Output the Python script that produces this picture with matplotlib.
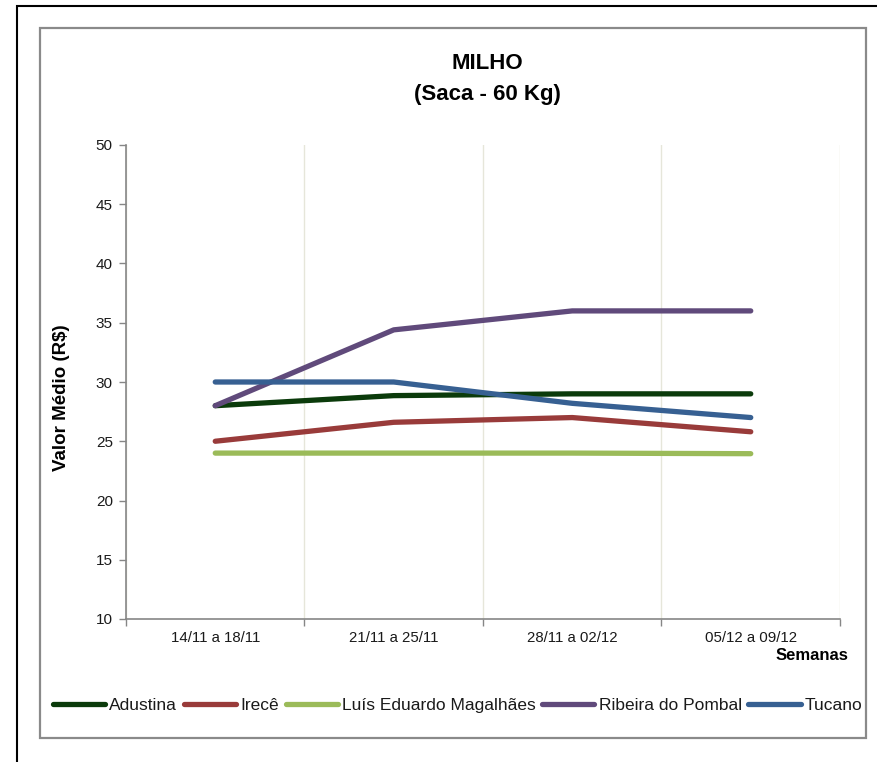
import matplotlib
matplotlib.use("Agg")
import matplotlib.pyplot as plt
from matplotlib.patches import Rectangle

# weekly average price of corn (R$ per 60 kg bag)
weeks = ['14/11 a 18/11', '21/11 a 25/11', '28/11 a 02/12', '05/12 a 09/12']
cities = ['Adustina', 'Irecê', 'Luís Eduardo Magalhães', 'Ribeira do Pombal', 'Tucano']
adustina = [28.0, 28.85, 29.0, 29.0]
irece = [25.0, 26.6, 27.0, 25.8]
lem = [24.0, 24.0, 24.0, 23.95]
ribeira = [28.0, 34.4, 36.0, 36.0]
tucano = [30.0, 30.0, 28.2, 27.0]
y_ticks = [10, 15, 20, 25, 30, 35, 40, 45, 50]

series = [adustina, irece, lem, ribeira, tucano]
colors = ['#0b3b0b', '#993b3a', '#9bbb59', '#604a7b', '#376092']

plt.rcParams['font.family'] = ['Liberation Sans', 'DejaVu Sans']

W, H = 878, 762
fig = plt.figure(figsize=(W / 100, H / 100), dpi=100, facecolor='white')

def fx(px):
    return px / W

def fy(py):
    return 1 - py / H

# outer black frame and inner grey chart frame
fig.patches.append(Rectangle((fx(17), fy(H + 10)), fx(W), fy(6) - fy(H + 10),
                             transform=fig.transFigure, fill=False,
                             edgecolor='black', linewidth=1.5, zorder=0))
fig.patches.append(Rectangle((fx(40), fy(738)), fx(866) - fx(40), fy(28) - fy(738),
                             transform=fig.transFigure, fill=False,
                             edgecolor='#8a8a8a', linewidth=1.6, zorder=5))

ax = fig.add_axes([fx(126), fy(619), fx(840) - fx(126), fy(145) - fy(619)])
x = list(range(len(weeks)))
for vals, name, c in zip(series, cities, colors):
    ax.plot(x, vals, color=c, linewidth=3.8, solid_capstyle='round',
            solid_joinstyle='round', label=name)

ax.set_xlim(-0.5, len(weeks) - 0.5)
ax.set_ylim(10, 50)
ax.set_yticks(y_ticks)
ax.set_xticks([i - 0.5 for i in range(len(weeks) + 1)])
ax.set_xticklabels([])
ax.set_xticks(x, minor=True)
ax.set_xticklabels(weeks, minor=True)
ax.tick_params(axis='x', which='major', direction='out', length=5, color='#868686', width=1)
ax.tick_params(axis='x', which='minor', length=0, pad=9, labelsize=10.8, labelcolor='#1a1a1a')
ax.tick_params(axis='y', direction='out', length=5, color='#868686', width=1,
               pad=4.5, labelsize=11, labelcolor='#1a1a1a')
ax.grid(axis='x', which='major', color='#e6e6da', linewidth=1)
for s in ['top', 'right']:
    ax.spines[s].set_visible(False)
for s in ['left', 'bottom']:
    ax.spines[s].set_color('#868686')
    ax.spines[s].set_linewidth(1.2)

fig.text(fx(487), fy(79), 'MILHO\n(Saca - 60 Kg)', ha='center', va='center',
         multialignment='center', fontsize=16, fontweight='bold', linespacing=1.6)
fig.text(fx(62), fy(398), 'Valor Médio (R$)', rotation=90, ha='center', va='center',
         fontsize=13.5, fontweight='bold')
fig.text(fx(848), fy(655), 'Semanas', ha='right', va='center',
         fontsize=12, fontweight='bold')

handles, labels = ax.get_legend_handles_labels()
leg = fig.legend(handles, labels, loc='center left', bbox_to_anchor=(fx(53), fy(705)),
                 ncol=5, frameon=False, fontsize=12.5, handlelength=3.0,
                 handletextpad=0.25, columnspacing=0.38, borderpad=0, borderaxespad=0)
clip = Rectangle((0, 0), fx(865), 1, transform=fig.transFigure)
for t in leg.get_texts():
    t.set_color('#1a1a1a')
    t.set_clip_path(clip)

fig.savefig('out.png', dpi=100)
